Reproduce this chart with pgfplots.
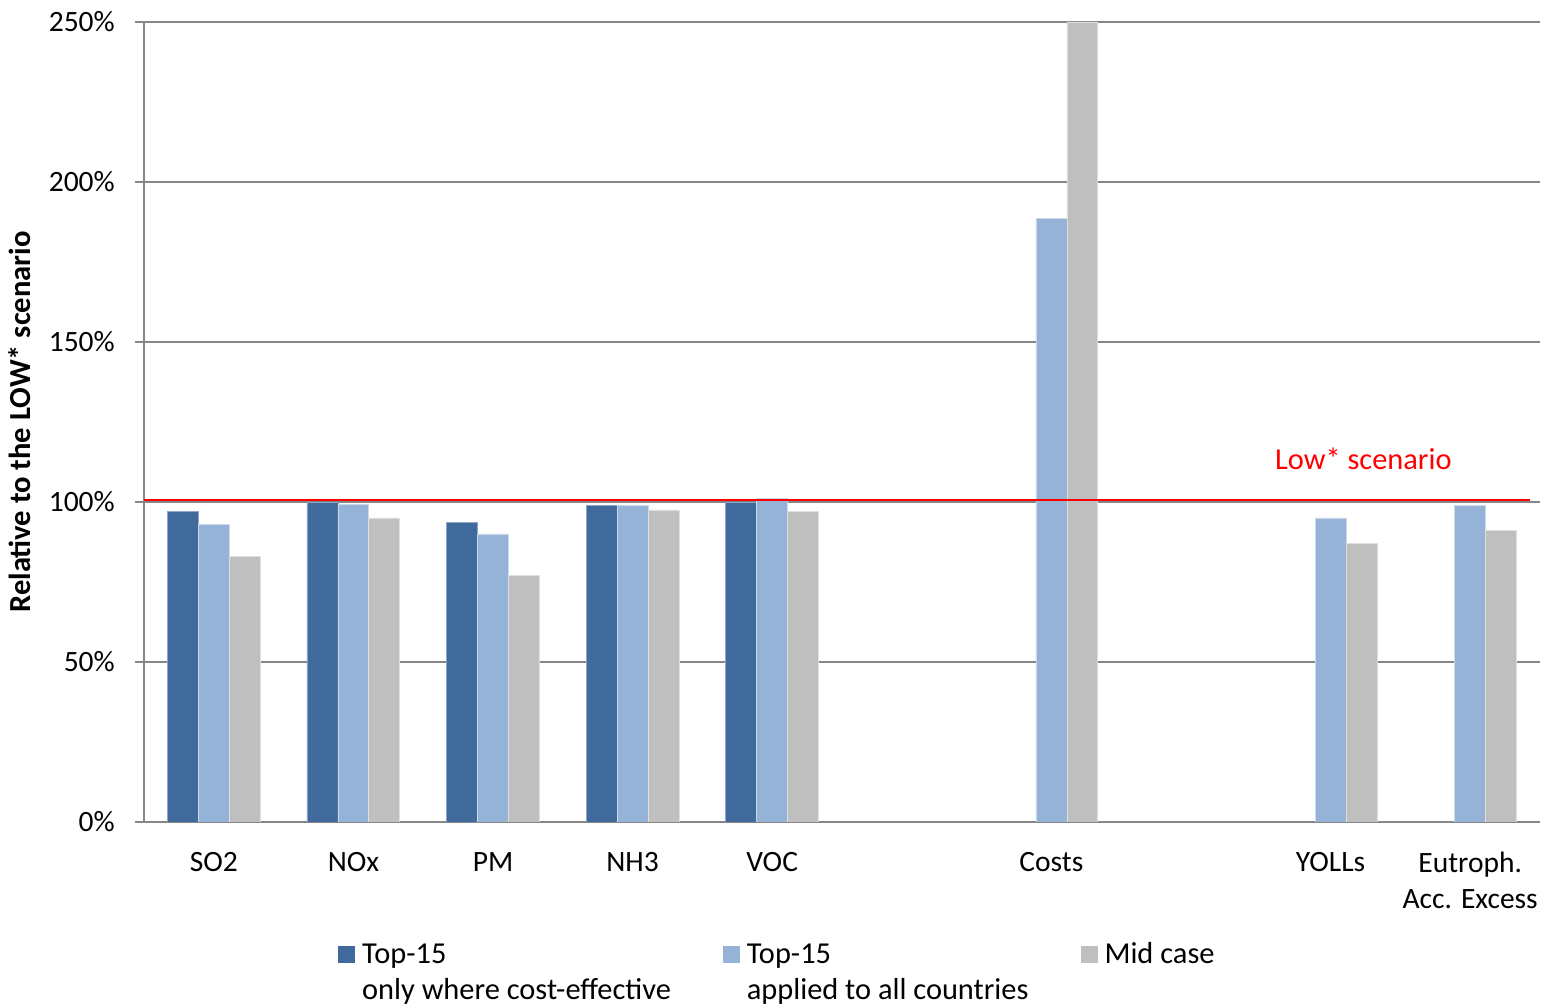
\documentclass[border=0pt]{standalone}
\usepackage{fontspec}
\setmainfont{Carlito}
\usepackage{pgfplots}
\pgfplotsset{compat=1.18}

\definecolor{darkbl}{RGB}{64,106,155}
\definecolor{lightbl}{RGB}{149,179,215}
\definecolor{midgr}{RGB}{191,191,191}
\definecolor{gridgr}{RGB}{134,134,134}

\pgfplotsset{sq legend/.style={legend image code/.code={\fill[##1,draw=none] (0pt,0.5pt) rectangle (8.5pt,9pt);}}}

\begin{document}
\fontsize{14.75}{17.7}\selectfont
\begin{tikzpicture}
\begin{axis}[
    at={(0,0)}, anchor=south west,
    scale only axis, width=698pt, height=400pt,
    xmin=-0.5, xmax=9.5, ymin=0, ymax=250,
    xtick={0,...,9},
    xticklabels={SO2,NOx,PM,NH3,VOC,,Costs,,YOLLs,{Eutroph.\\Acc. Excess}},
    xticklabel style={align=center, yshift=-5.5pt},
    x tick style={draw=none},
    ytick={0,50,...,250},
    yticklabel={\pgfmathprintnumber{\tick}\%},
    yticklabel style={xshift=-5pt},
    /pgf/number format/assume math mode=true,
    tick align=outside, major tick length=4.5pt,
    y tick style={draw=gridgr, line width=0.6pt},
    ymajorgrids, grid style={draw=gridgr, line width=0.6pt},
    axis x line*=bottom, axis y line*=left,
    axis line style={draw=gridgr, line width=0.6pt, -},
    tick label style={font=\fontsize{14.75}{17.7}\selectfont},
    ylabel={\bfseries Relative to the LOW* scenario},
    ylabel style={at={(axis description cs:-0.089,0.5)}, anchor=center, font=\fontsize{15.3}{18}\selectfont},
    bar width=0.222,
    legend columns=3,
    legend style={draw=none, fill=none, at={(axis description cs:0.1345,-0.136)}, anchor=north west,
        font=\fontsize{15.2}{17.6}\selectfont, cells={anchor=base west},
        /tikz/every even column/.append style={column sep=24pt},
        /tikz/every odd column/.append style={column sep=1.5pt}},
]
\addplot[ybar, bar shift=-0.222, fill=darkbl, draw=darkbl!60!white, line width=0.4pt, sq legend] coordinates {
    (0,97) (1,100) (2,93.5) (3,99) (4,100)
};
\addlegendentry{\begin{tabular}[t]{@{}l@{}}Top-15\\only where cost-effective\end{tabular}}
\addplot[ybar, bar shift=0, fill=lightbl, draw=lightbl!50!white, line width=0.4pt, sq legend] coordinates {
    (0,93) (1,99.2) (2,90) (3,99) (4,101) (6,188.5) (8,95) (9,99)
};
\addlegendentry{\begin{tabular}[t]{@{}l@{}}Top-15\\applied to all countries\end{tabular}}
\addplot[ybar, bar shift=0.222, fill=midgr, draw=midgr!50!white, line width=0.4pt, sq legend] coordinates {
    (0,83) (1,95) (2,77) (3,97.5) (4,97) (6,250) (8,87) (9,91)
};
\addlegendentry{Mid case}
\addplot[red, line width=1pt, forget plot] coordinates {(-0.5,100.6) (9.43,100.6)};
\node[text=red, anchor=base west, inner sep=0pt, font=\fontsize{15.2}{18}\selectfont] at (axis cs:7.60,110) {Low* scenario};
\end{axis}
\pgfresetboundingbox
\path (-72pt,-91.5pt) rectangle (703.5pt,411pt);
\end{tikzpicture}
\end{document}
